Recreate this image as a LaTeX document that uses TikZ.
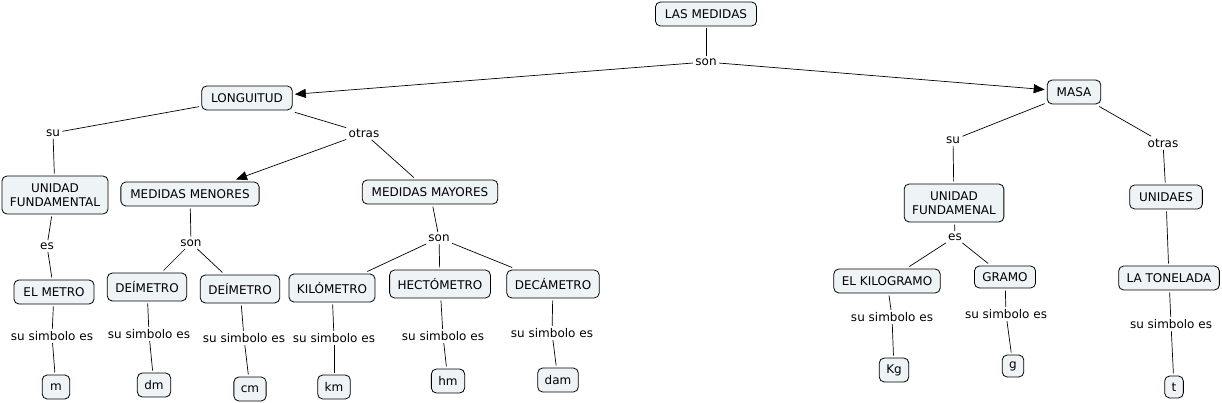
\documentclass[tikz,border=0pt]{standalone}
\usepackage{fontspec}
\setmainfont{DejaVu Sans}
\usetikzlibrary{arrows.meta}
\definecolor{boxfill}{RGB}{238,243,245}
\tikzset{
  concept/.style={draw=black, fill=boxfill, rounded corners=5pt, line width=0.8pt,
    inner xsep=9.5pt, inner ysep=0pt, minimum height=24pt, align=center, outer sep=2.5pt,
    font=\fontsize{12}{14}\selectfont},
  symb/.style={concept, inner xsep=7pt},
  link/.style={fill=white, inner sep=1.5pt, outer sep=1pt, font=\fontsize{12}{14}\selectfont},
  conn/.style={draw=black, line width=0.7pt},
  arr/.style={conn, -{Triangle[length=11pt,width=9pt]}}
}
\begin{document}
\begin{tikzpicture}[x=1pt,y=-1pt]
\useasboundingbox (0,0) rectangle (1222,403);
% concepts
\node[concept] (top) at (706,14) {LAS MEDIDAS};
\node[concept] (long) at (247,98) {LONGUITUD};
\node[concept] (masa) at (1074,92) {MASA};
\node[concept, minimum height=38pt, inner xsep=8pt] (unidad) at (55,195) {UNIDAD\\FUNDAMENTAL};
\node[concept] (menores) at (190,194) {MEDIDAS MENORES};
\node[concept] (mayores) at (430,192) {MEDIDAS MAYORES};
\node[concept] (metro) at (54,292) {EL METRO};
\node[concept, minimum height=28pt, inner xsep=8pt] (dei1) at (147,287) {DEÍMETRO};
\node[concept, minimum height=28pt, inner xsep=8pt] (dei2) at (240,289) {DEÍMETRO};
\node[concept, minimum height=28pt, inner xsep=8pt] (kilo) at (332,288) {KILÓMETRO};
\node[concept, minimum height=28pt, inner xsep=8pt] (hecto) at (440,284) {HECTÓMETRO};
\node[concept, minimum height=28pt, inner xsep=8pt] (deca) at (553,284) {DECÁMETRO};
\node[symb, inner xsep=8pt] (m) at (56,387) {m};
\node[symb] (dm) at (154,385) {dm};
\node[symb] (cm) at (250,389) {cm};
\node[symb] (km) at (334,387) {km};
\node[symb] (hm) at (448,381) {hm};
\node[symb] (dam) at (558,380) {dam};
\node[concept, minimum height=38pt, inner xsep=8pt] (unidadm) at (954,203) {UNIDAD\\FUNDAMENAL};
\node[concept] (unidaes) at (1166,197) {UNIDAES};
\node[concept, inner xsep=8pt] (kilog) at (887,281) {EL KILOGRAMO};
\node[concept, minimum height=22pt, inner xsep=8pt] (gramo) at (1005,277) {GRAMO};
\node[concept, inner xsep=8pt] (ton) at (1169,278) {LA TONELADA};
\node[symb] (Kg) at (894,370) {Kg};
\node[symb, minimum height=22pt] (g) at (1013,366) {g};
\node[symb, minimum height=22pt] (t) at (1174,387) {t};
% linking phrases
\node[link] (son1) at (706,62) {son};
\node[link] (su1) at (53,133) {su};
\node[link] (otras1) at (364,133) {otras};
\node[link] (es1) at (47,246) {es};
\node[link] (son2) at (191,243) {son};
\node[link] (son3) at (439,238) {son};
\node[link] (s1) at (52,336) {su simbolo es};
\node[link] (s2) at (149,334) {su simbolo es};
\node[link] (s3) at (244,338) {su simbolo es};
\node[link] (s4) at (334,338) {su simbolo es};
\node[link] (s5) at (443,336) {su simbolo es};
\node[link] (s6) at (552,333) {su simbolo es};
\node[link] (su2) at (953,140) {su};
\node[link] (otras2) at (1163,143) {otras};
\node[link] (es2) at (955,237) {es};
\node[link] (s7) at (892,317) {su simbolo es};
\node[link] (s8) at (1006,314) {su simbolo es};
\node[link] (s9) at (1171,324) {su simbolo es};
% connectors
\draw[conn] (top) -- (son1);
\draw[arr] (son1) -- (long);
\draw[arr] (son1) -- (masa);
\draw[conn] (long) -- (su1);
\draw[conn] (su1) -- (unidad);
\draw[conn] (long) -- (otras1);
\draw[arr] (otras1) -- ([xshift=46pt]menores.north);
\draw[conn] (otras1) -- (mayores);
\draw[conn] (unidad) -- (es1);
\draw[conn] (es1) -- (metro);
\draw[conn] (menores) -- (son2);
\draw[conn] (son2) -- (dei1);
\draw[conn] (son2) -- (dei2);
\draw[conn] (mayores) -- (son3);
\draw[conn] (son3) -- (kilo);
\draw[conn] (son3) -- (hecto);
\draw[conn] (son3) -- (deca);
\draw[conn] (metro) -- (s1);
\draw[conn] (s1) -- (m);
\draw[conn] (dei1) -- (s2);
\draw[conn] (s2) -- (dm);
\draw[conn] (dei2) -- (s3);
\draw[conn] (s3) -- (cm);
\draw[conn] (kilo) -- (s4);
\draw[conn] (s4) -- (km);
\draw[conn] (hecto) -- (s5);
\draw[conn] (s5) -- (hm);
\draw[conn] (deca) -- (s6);
\draw[conn] (s6) -- (dam);
\draw[conn] (masa) -- (su2);
\draw[conn] (su2) -- (unidadm);
\draw[conn] (masa) -- (otras2);
\draw[conn] (otras2) -- (unidaes);
\draw[conn] (unidadm) -- (es2);
\draw[conn] (es2) -- (kilog);
\draw[conn] (es2) -- (gramo);
\draw[conn] (unidaes) -- (ton);
\draw[conn] (kilog) -- (s7);
\draw[conn] (s7) -- (Kg);
\draw[conn] (gramo) -- (s8);
\draw[conn] (s8) -- (g);
\draw[conn] (ton) -- (s9);
\draw[conn] (s9) -- (t);
\end{tikzpicture}
\end{document}
